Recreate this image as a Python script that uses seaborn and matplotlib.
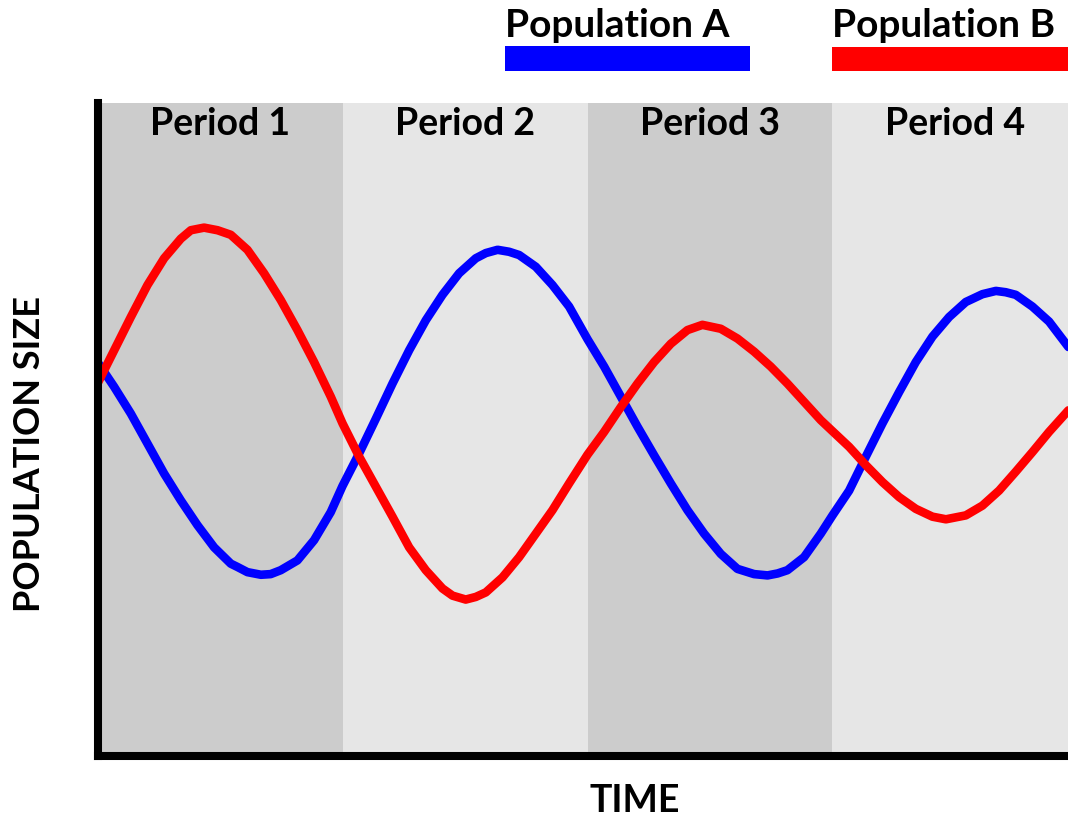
import numpy as np
import pandas as pd
import matplotlib
matplotlib.use("Agg")
import matplotlib.pyplot as plt
import matplotlib.patches as patches
import seaborn as sns

# Datos (tiempo en periodos, tamano en escala 0-100)
time_a = [0.0, 0.068, 0.136, 0.204, 0.272, 0.340, 0.408, 0.476, 0.544, 0.571,
          0.612, 0.667, 0.707, 0.748, 0.816, 0.884, 0.952, 1.0, 1.068, 1.136,
          1.204, 1.272, 1.340, 1.408, 1.476, 1.544, 1.585, 1.633, 1.680, 1.721,
          1.789, 1.857, 1.925, 2.0, 2.068, 2.136, 2.204, 2.272, 2.340, 2.408,
          2.476, 2.544, 2.612, 2.680, 2.735, 2.776, 2.816, 2.884, 2.952, 3.0,
          3.068, 3.136, 3.204, 3.272, 3.340, 3.408, 3.476, 3.544, 3.612, 3.667,
          3.707, 3.748, 3.816, 3.884, 3.963]
size_a = [60.3, 56.5, 52.4, 47.8, 43.2, 39.1, 35.3, 31.9, 29.4, 28.9,
          28.1, 27.7, 27.8, 28.4, 29.9, 33.0, 37.3, 41.3, 46.3, 51.6,
          57.0, 62.1, 66.7, 70.6, 73.9, 76.2, 77.0, 77.5, 77.2, 76.7,
          74.9, 72.1, 68.8, 63.8, 59.6, 55.0, 50.4, 46.0, 41.7, 37.6,
          34.0, 30.9, 28.6, 27.8, 27.6, 27.9, 28.4, 30.4, 34.0, 36.8,
          40.6, 45.8, 50.9, 55.7, 60.3, 64.2, 67.2, 69.5, 70.7, 71.2,
          71.0, 70.6, 68.8, 66.5, 62.6]

time_b = [0.0, 0.068, 0.136, 0.204, 0.272, 0.340, 0.381, 0.435, 0.490, 0.544,
          0.612, 0.680, 0.748, 0.816, 0.884, 0.952, 1.0, 1.068, 1.136, 1.204,
          1.272, 1.340, 1.408, 1.449, 1.503, 1.544, 1.585, 1.653, 1.721, 1.789,
          1.857, 1.925, 2.0, 2.068, 2.136, 2.204, 2.272, 2.340, 2.408, 2.469,
          2.544, 2.612, 2.680, 2.748, 2.816, 2.884, 2.952, 3.0, 3.068, 3.136,
          3.204, 3.272, 3.340, 3.408, 3.463, 3.544, 3.612, 3.680, 3.748, 3.816,
          3.884, 3.963]
size_b = [57.0, 62.1, 67.2, 72.1, 76.2, 79.2, 80.5, 80.9, 80.5, 79.8,
          77.5, 73.9, 69.8, 65.2, 60.3, 55.0, 50.9, 45.8, 41.2, 36.6,
          31.9, 28.4, 25.6, 24.5, 23.9, 24.3, 25.0, 27.3, 30.4, 34.0,
          37.6, 41.7, 46.1, 49.6, 53.4, 57.0, 60.3, 63.1, 65.2, 66.0,
          65.4, 63.9, 61.9, 59.6, 57.0, 54.2, 51.4, 49.7, 47.3, 44.5,
          41.9, 39.6, 37.8, 36.6, 36.2, 36.8, 38.3, 40.6, 43.5, 46.5,
          49.6, 52.9]

periods = ["Period 1", "Period 2", "Period 3", "Period 4"]
period_colors = ["#cccccc", "#e6e6e6", "#cccccc", "#e6e6e6"]
series_names = ["Population A", "Population B"]
series_colors = ["#0000ff", "#ff0000"]

df = pd.concat([
    pd.DataFrame({"time": time_a, "size": size_a, "pop": series_names[0]}),
    pd.DataFrame({"time": time_b, "size": size_b, "pop": series_names[1]}),
])

sns.set_style("white")
plt.rcParams["font.family"] = ["Lato", "DejaVu Sans"]
plt.rcParams["text.color"] = "black"

fig = plt.figure(figsize=(10.68, 8.18), dpi=100)
ax = fig.add_axes([97.5 / 1068, 62.5 / 818, 1 - 97.5 / 1068, (755.5 - 103) / 818])

# Bandas de fondo por periodo
for i, (name, col) in enumerate(zip(periods, period_colors)):
    ax.axvspan(i, i + 1, color=col, lw=0, zorder=0)
    ax.text(i + 0.5, (755 - 135) / 6.52, name, ha="center", va="baseline",
            fontsize=27, fontweight="bold", color="black")

sns.lineplot(data=df, x="time", y="size", hue="pop",
             palette=dict(zip(series_names, series_colors)),
             linewidth=6.2, estimator=None, legend=False, ax=ax)
for line in ax.lines:
    line.set_solid_joinstyle("round")

ax.set_xlim(0, (1068 - 97.5) / 245)
ax.set_ylim(0, 100)
ax.set_xticks([])
ax.set_yticks([])
ax.set_xlabel("")
ax.set_ylabel("")
for side in ["top", "right"]:
    ax.spines[side].set_visible(False)
for side in ["left", "bottom"]:
    ax.spines[side].set_linewidth(5.8)
    ax.spines[side].set_color("black")
    ax.spines[side].set_zorder(5)

# Leyenda manual arriba
fig.text(505 / 1068, 1 - 37 / 818, series_names[0], ha="left", va="baseline",
         fontsize=28, fontweight="bold", color="black")
fig.text(832 / 1068, 1 - 37 / 818, series_names[1], ha="left", va="baseline",
         fontsize=28, fontweight="bold", color="black")
fig.add_artist(patches.Rectangle((505 / 1068, 1 - 71 / 818), 245 / 1068, 25 / 818,
                                 transform=fig.transFigure, color=series_colors[0], lw=0))
fig.add_artist(patches.Rectangle((832 / 1068, 1 - 71 / 818), 236 / 1068, 24 / 818,
                                 transform=fig.transFigure, color=series_colors[1], lw=0))

fig.text(635 / 1068, 1 - 812 / 818, "TIME", ha="center", va="baseline",
         fontsize=27, fontweight="bold", color="black")
fig.text(40 / 1068, 1 - 454 / 818, "POPULATION SIZE", ha="center", va="baseline",
         rotation=90, rotation_mode="anchor", fontsize=26, fontweight="bold",
         color="black")

fig.savefig("out.png", dpi=100)
